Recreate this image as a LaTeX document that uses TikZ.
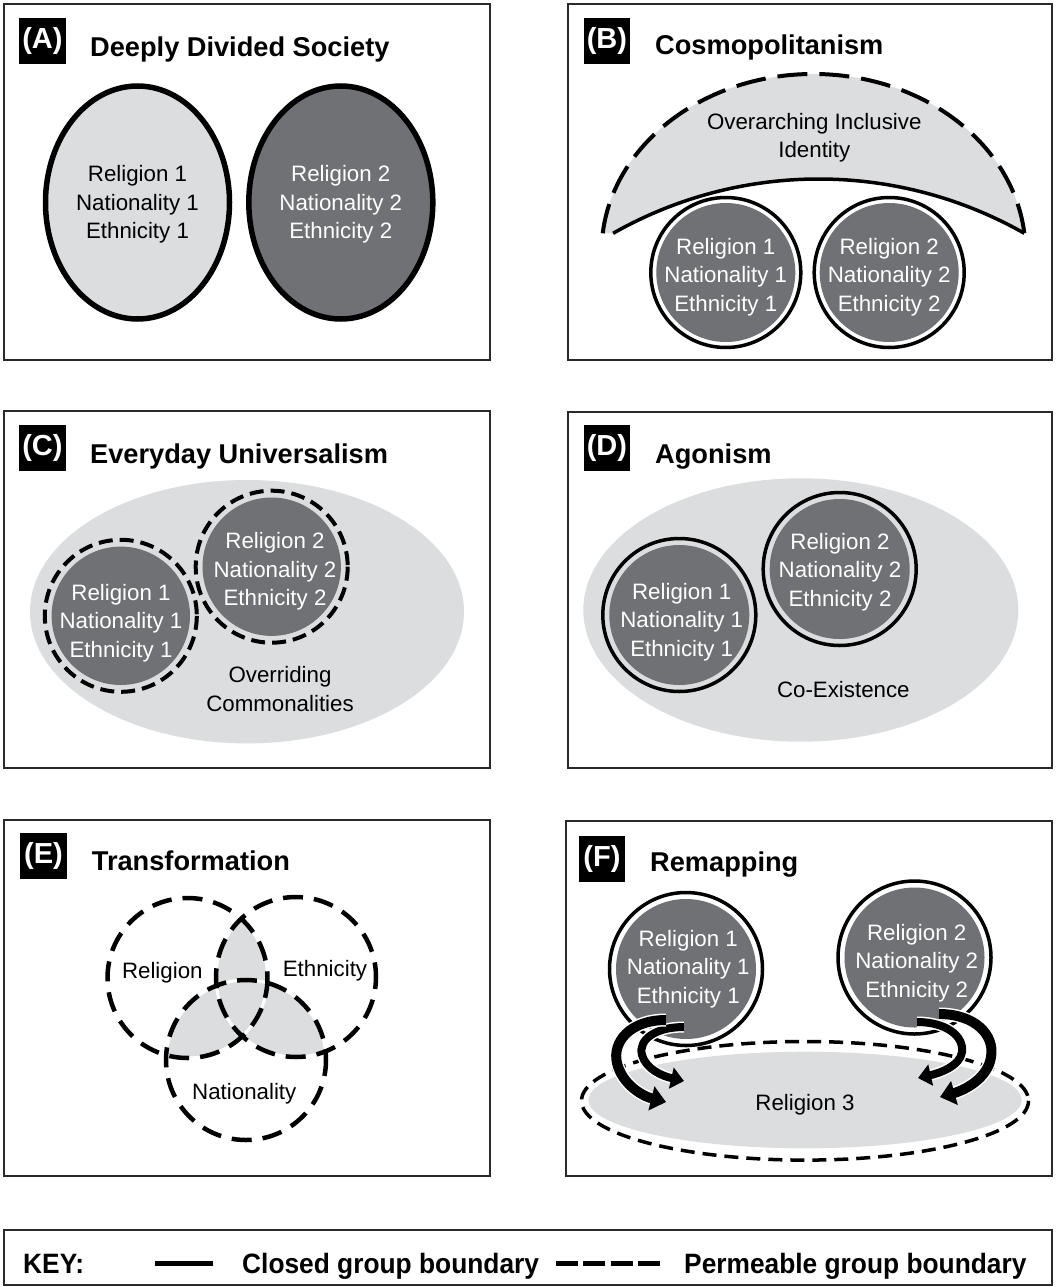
\documentclass[tikz,border=0pt]{standalone}
\usepackage{fontspec}
\setmainfont{Liberation Sans}
\usetikzlibrary{arrows.meta}
\definecolor{dk}{HTML}{707175}
\definecolor{lt}{HTML}{DCDDDE}
\definecolor{fr}{HTML}{2A2A2A}
\begin{document}
\begin{tikzpicture}[x=1pt,y=-1pt,
  frame/.style={draw=fr, line width=2pt},
  tag/.style={fill=black, text=white, font=\fontsize{29}{29}\bfseries\selectfont,
    minimum width=46.5pt, minimum height=46pt, inner sep=0pt, anchor=north west},
  ttl/.style={font=\fontsize{27.2}{30}\bfseries\selectfont, anchor=base west, inner sep=0pt},
  body/.style={font=\fontsize{22.3}{28.5}\selectfont, align=center, inner sep=0pt, yshift=-3pt},
  wbody/.style={body, text=white},
  keytxt/.style={font=\fontsize{28}{30}\bfseries\selectfont, anchor=base west, inner sep=0pt},
  closedring/.style={draw=black, line width=3.5pt},
  permB/.style={draw=black, line width=4pt, dash pattern=on 30pt off 12pt},
  permC/.style={draw=black, line width=4pt, dash pattern=on 14pt off 7pt},
  permE/.style={draw=black, line width=4.5pt, dash pattern=on 20pt off 11pt},
  permF/.style={draw=black, line width=3.5pt, dash pattern=on 14pt off 8pt},
  arrout/.style={line width=10pt, -{Triangle[length=15pt,width=24pt]},
    preaction={draw=white, line width=13pt, -, shorten >=13pt}},
  arrin/.style={line width=8pt, -{Triangle[length=13pt,width=21pt]},
    preaction={draw=white, line width=11pt, -, shorten >=11pt}}
]
\useasboundingbox (0,0) rectangle (1057,1287);
\fill[white] (0,0) rectangle (1057,1287);

% ---------------- Panel A ----------------
\draw[frame] (4,4) rectangle (490,360);
\node[tag] (tagA) at (19,18) {(A)};
\node[ttl] (ttlA) at (90,56.7) {Deeply Divided Society};
\draw[draw=black, line width=5.5pt, fill=lt] (137.5,202.5) ellipse[x radius=92, y radius=116.5];
\draw[draw=black, line width=5.5pt, fill=dk] (340.8,202.5) ellipse[x radius=92, y radius=116.5];
\node[body] (a1) at (137.5,201.5) {Religion 1\\Nationality 1\\Ethnicity 1};
\node[wbody] (a2) at (340.8,201.5) {Religion 2\\Nationality 2\\Ethnicity 2};

% ---------------- Panel B ----------------
\draw[frame] (568,4) rectangle (1052,360);
\node[tag] (tagB) at (583.5,18) {(B)};
\node[ttl] (ttlB) at (655,55) {Cosmopolitanism};
\fill[lt] (602.7,233.3) arc[start angle=186.03, end angle=353.97, x radius=212, y radius=178]
   arc[start angle=299.59, end angle=240.41, radius=416.4] -- cycle;
\draw[permB] (602.7,233.3) arc[start angle=186.03, end angle=353.97, x radius=212, y radius=178];
\draw[draw=black, line width=3.5pt] (1024.3,233.3) arc[start angle=299.59, end angle=240.41, radius=416.4];
\node[body] (bo) at (814.3,134.5) {Overarching Inclusive\\Identity};
\fill[dk] (725.8,272.5) circle[radius=69.5];
\draw[closedring] (725.8,272.5) circle[radius=75];
\fill[dk] (889.2,272.5) circle[radius=69.5];
\draw[closedring] (889.2,272.5) circle[radius=75];
\node[wbody] (b1) at (725.8,274) {Religion 1\\Nationality 1\\Ethnicity 1};
\node[wbody] (b2) at (889.2,274) {Religion 2\\Nationality 2\\Ethnicity 2};

% ---------------- Panel C ----------------
\draw[frame] (4,411) rectangle (490,768);
\node[tag] (tagC) at (19,425) {(C)};
\node[ttl] (ttlC) at (90,463.5) {Everyday Universalism};
\fill[lt] (247,611.7) ellipse[x radius=217, y radius=131.7];
\fill[dk] (120.8,615.8) circle[radius=69.2];
\draw[permC] (120.8,615.8) circle[radius=76];
\fill[dk] (271.7,566.7) circle[radius=69.2];
\draw[permC] (271.7,566.7) circle[radius=76];
\node[wbody] (c1) at (121,620) {Religion 1\\Nationality 1\\Ethnicity 1};
\node[wbody] (c2) at (275,568.6) {Religion 2\\Nationality 2\\Ethnicity 2};
\node[body] (co) at (280,686) {Overriding\\Commonalities};

% ---------------- Panel D ----------------
\draw[frame] (568,411.7) rectangle (1052,768);
\node[tag] (tagD) at (583.5,425) {(D)};
\node[ttl] (ttlD) at (655,463.3) {Agonism};
\fill[lt] (800.8,610) ellipse[x radius=217.5, y radius=131.7];
\fill[dk] (679.3,615) circle[radius=70];
\draw[closedring] (679.3,615) circle[radius=76.5];
\fill[dk] (839.7,569) circle[radius=70];
\draw[closedring] (839.7,569) circle[radius=76.5];
\node[wbody] (d1) at (681.7,619) {Religion 1\\Nationality 1\\Ethnicity 1};
\node[wbody] (d2) at (840,569) {Religion 2\\Nationality 2\\Ethnicity 2};
\node[body] (dco) at (843.3,686.7) {Co-Existence};

% ---------------- Panel E ----------------
\draw[frame] (4,820) rectangle (490,1176);
\node[tag] (tagE) at (20,832.5) {(E)};
\node[ttl] (ttlE) at (91.7,870) {Transformation};
\begin{scope}
  \clip (187.5,978) circle[radius=80];
  \fill[lt] (296,977) circle[radius=80];
  \fill[lt] (246,1060) circle[radius=80];
\end{scope}
\begin{scope}
  \clip (296,977) circle[radius=80];
  \fill[lt] (246,1060) circle[radius=80];
\end{scope}
\draw[white, line width=3pt] (187.5,978) circle[radius=80];
\draw[white, line width=3pt] (296,977) circle[radius=80];
\draw[white, line width=3pt] (246,1060) circle[radius=80];
\draw[permE] (187.5,978) circle[radius=80];
\draw[permE, dash phase=8pt] (296,977) circle[radius=80];
\draw[permE, dash phase=4pt] (246,1060) circle[radius=80];
\node[body] (er) at (162.3,970) {Religion};
\node[body] (ee) at (325,967.7) {Ethnicity};
\node[body] (en) at (244.3,1090.7) {Nationality};

% ---------------- Panel F ----------------
\draw[frame] (566,821) rectangle (1052,1176);
\node[tag] (tagF) at (578.5,835.5) {(F)};
\node[ttl] (ttlF) at (650,871.5) {Remapping};
\fill[lt] (805,1100) ellipse[x radius=216.7, y radius=48.3];
\draw[permF] (805,1100.8) ellipse[x radius=223.5, y radius=59.3];
\node[body] (f3) at (805,1101.7) {Religion 3};
\fill[dk] (686,969) circle[radius=70];
\draw[closedring] (686,969) circle[radius=76.5];
\fill[dk] (914.5,957.5) circle[radius=70];
\draw[closedring] (914.5,957.5) circle[radius=76.5];
\node[wbody] (f1) at (688.3,966) {Religion 1\\Nationality 1\\Ethnicity 1};
\node[wbody] (f2) at (916.7,960) {Religion 2\\Nationality 2\\Ethnicity 2};
% arrows left
\coordinate (lis) at (684,1027);
\coordinate (lit) at (684,1081);
\coordinate (los) at (666,1020);
\coordinate (lot) at (666,1102);
\draw[arrin] (lis) .. controls (655,1027) and (638,1040) .. (642,1055)
   .. controls (646,1069) and (662,1076) .. (lit);
\draw[arrout] (los) .. controls (630,1020) and (612,1042) .. (617,1063)
   .. controls (622,1084) and (642,1096) .. (lot);
% arrows right
\coordinate (ris) at (917,1022);
\coordinate (rit) at (918,1078);
\coordinate (ros) at (939,1014);
\coordinate (rot) at (940,1097);
\draw[arrin] (ris) .. controls (946,1022) and (964,1036) .. (962,1052)
   .. controls (960,1066) and (940,1073) .. (rit);
\draw[arrout] (ros) .. controls (975,1014) and (995,1035) .. (991,1057)
   .. controls (988,1078) and (965,1090) .. (rot);

% ---------------- Key ----------------
\draw[frame] (4,1230) rectangle (1052,1285);
\node[keytxt] (key) at (23,1273) {\scalebox{0.94}[1]{KEY:}};
\coordinate (ks1) at (155,1263);
\coordinate (ks2) at (213,1263);
\draw[black, line width=5pt] (ks1) -- (ks2);
\node[keytxt] (kc) at (242,1273) {\scalebox{0.94}[1]{Closed group boundary}};
\coordinate (kd1) at (556,1263);
\coordinate (kd2) at (660,1263);
\draw[black, line width=5pt, dash pattern=on 22pt off 5.3pt] (kd1) -- (kd2);
\node[keytxt] (kp) at (684,1273) {\scalebox{0.94}[1]{Permeable group boundary}};
\end{tikzpicture}
\end{document}
